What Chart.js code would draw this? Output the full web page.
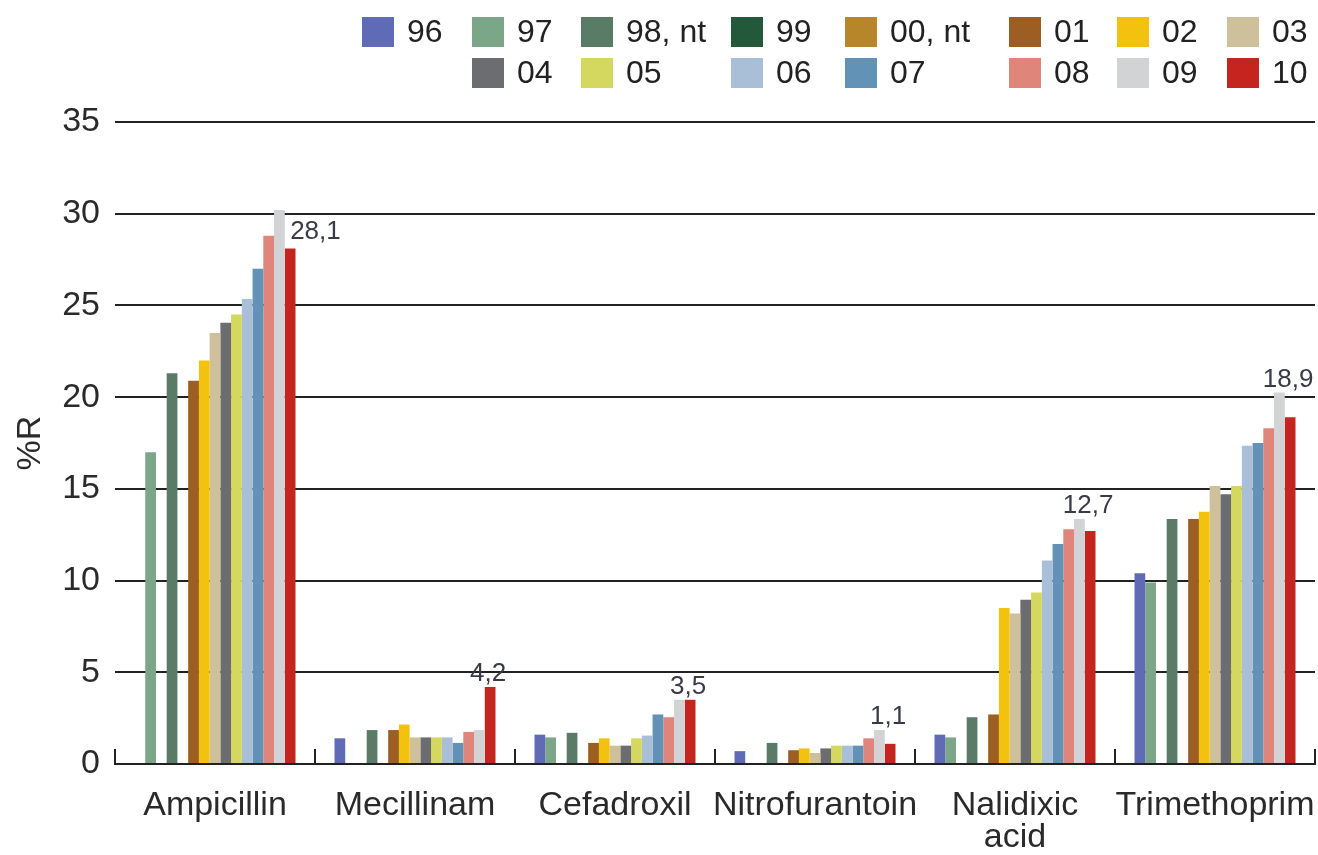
<!DOCTYPE html>
<html>
<head>
<meta charset="utf-8">
<script src="https://cdn.jsdelivr.net/npm/chart.js@4.4.1/dist/chart.umd.min.js"></script>
<style>
  body { margin: 0; background: #fff; }
  #wrap { position: relative; width: 1318px; height: 855px; }
  #legend {
    position: absolute; left: 362px; top: 11px;
    display: grid;
    grid-template-columns: 110px 109px 150px 114px 164px 108px 110px 91px;
    grid-auto-rows: 41px;
    font-family: 'Liberation Sans', Arial, sans-serif; font-size: 32px; color: #222;
  }
  .item { display: flex; align-items: center; white-space: nowrap; }
  .box { width: 32px; height: 30px; margin-right: 13px; flex: none; }
</style>
</head>
<body>
<div id="wrap">
  <canvas id="chart" width="1318" height="855"></canvas>
  <div id="legend"></div>
</div>
<script>
const categories = ['Ampicillin', 'Mecillinam', 'Cefadroxil', 'Nitrofurantoin', ['Nalidixic', 'acid'], 'Trimethoprim'];
const yTicks = [0, 5, 10, 15, 20, 25, 30, 35];

// %R per year, one value per antibiotic (null = no bar)
const r96 = [null, 1.4, 1.6, 0.7, 1.6, 10.4];
const r97 = [17.0, null, 1.45, null, 1.45, 9.9];
const r98 = [21.3, 1.85, 1.7, 1.15, 2.55, 13.35];
const r99 = [null, null, null, null, null, null];
const r00 = [null, null, null, null, null, null];
const r01 = [20.9, 1.85, 1.15, 0.75, 2.7, 13.35];
const r02 = [22.0, 2.15, 1.4, 0.85, 8.5, 13.75];
const r03 = [23.5, 1.45, 1.0, 0.6, 8.2, 15.15];
const r04 = [24.05, 1.45, 1.0, 0.85, 8.95, 14.7];
const r05 = [24.5, 1.45, 1.4, 1.0, 9.35, 15.15];
const r06 = [25.35, 1.45, 1.55, 1.0, 11.1, 17.35];
const r07 = [27.0, 1.15, 2.7, 1.0, 12.0, 17.5];
const r08 = [28.8, 1.75, 2.55, 1.4, 12.8, 18.3];
const r09 = [30.2, 1.85, 3.5, 1.85, 13.35, 20.25];
const r10 = [28.1, 4.2, 3.5, 1.1, 12.7, 18.9];

const series = [
  { label: '96', data: r96, color: '#5f6bb5' },
  { label: '97', data: r97, color: '#7ba688' },
  { label: '98, nt', data: r98, color: '#5a7c66' },
  { label: '99', data: r99, color: '#23583a' },
  { label: '00, nt', data: r00, color: '#b7862a' },
  { label: '01', data: r01, color: '#9c5e23' },
  { label: '02', data: r02, color: '#f2c20e' },
  { label: '03', data: r03, color: '#cfc09c' },
  { label: '04', data: r04, color: '#6b6d70' },
  { label: '05', data: r05, color: '#d5d85e' },
  { label: '06', data: r06, color: '#a9bfd8' },
  { label: '07', data: r07, color: '#6293b6' },
  { label: '08', data: r08, color: '#e0857a' },
  { label: '09', data: r09, color: '#d2d3d5' },
  { label: '10', data: r10, color: '#c4251f' },
];

// bar slot order in each group (the empty 99 slot sits between 97 and 98)
const slotOrder = ['96', '97', '99', '98, nt', '00, nt', '01', '02', '03', '04', '05', '06', '07', '08', '09', '10'];

const font = "'Liberation Sans', Arial, sans-serif";
const fmt = v => v.toFixed(1).replace('.', ',');

const valueLabels = {
  id: 'valueLabels',
  afterDatasetsDraw(chart) {
    const ctx = chart.ctx;
    const m10 = chart.getDatasetMeta(slotOrder.indexOf('10'));
    const m09 = chart.getDatasetMeta(slotOrder.indexOf('09'));
    ctx.save();
    ctx.font = '26px ' + font;
    ctx.fillStyle = '#3a3a48';
    ctx.textBaseline = 'alphabetic';
    r10.forEach((v, i) => {
      const b10 = m10.data[i];
      const b09 = m09.data[i];
      if (r09[i] - v > 2) {
        // taller 09 bar next to it: put the label beside it
        ctx.textAlign = 'left';
        ctx.fillText(fmt(v), b10.x, b10.y - 10);
      } else {
        ctx.textAlign = 'center';
        ctx.fillText(fmt(v), b10.x - 2, Math.min(b10.y, b09.y) - 6);
      }
    });
    ctx.restore();
  }
};

const ordered = slotOrder.map(l => series.find(s => s.label === l));

new Chart(document.getElementById('chart'), {
  type: 'bar',
  data: {
    labels: categories,
    datasets: ordered.map(s => ({
      label: s.label,
      data: s.data,
      backgroundColor: s.color,
      borderWidth: 0,
      categoryPercentage: 0.805,
      barPercentage: 1.0,
    })),
  },
  options: {
    responsive: false,
    animation: false,
    layout: { padding: { top: 122, right: 3, left: 0, bottom: 0 } },
    plugins: {
      legend: { display: false },
      tooltip: { enabled: false },
    },
    scales: {
      x: {
        offset: true,
        afterFit: s => { s.height = 91; s.paddingLeft = 0; s.paddingRight = 0; },
        grid: {
          offset: true,
          drawOnChartArea: false,
          color: '#222',
          lineWidth: 2,
          tickLength: -15,
        },
        border: { display: true, color: '#222', width: 2 },
        ticks: {
          color: '#2a2a2a',
          padding: 40,
          maxRotation: 0,
          autoSkip: false,
          font: { family: font, size: 34, lineHeight: 0.95 },
        },
      },
      y: {
        min: 0,
        max: 35,
        afterFit: s => { s.width = 115; },
        afterBuildTicks: axis => { axis.ticks = yTicks.map(v => ({ value: v })); },
        grid: { color: '#222', lineWidth: 2, drawTicks: false },
        border: { display: false },
        ticks: {
          color: '#2a2a2a',
          padding: 15,
          font: { family: font, size: 34 },
        },
        title: {
          display: true,
          text: '%R',
          color: '#2a2a2a',
          padding: { top: 10, bottom: 0 },
          font: { family: font, size: 34 },
        },
      },
    },
  },
  plugins: [valueLabels],
});

// legend in the reference layout: two rows, second row starts at column 2
const legendOrder = ['96', '97', '98, nt', '99', '00, nt', '01', '02', '03', '04', '05', '06', '07', '08', '09', '10'];
const legendEl = document.getElementById('legend');
legendOrder.forEach((l, k) => {
  const s = series.find(x => x.label === l);
  const item = document.createElement('div');
  item.className = 'item';
  if (k === 8) item.style.gridColumnStart = 2;
  const box = document.createElement('span');
  box.className = 'box';
  box.style.background = s.color;
  const txt = document.createElement('span');
  txt.textContent = s.label;
  item.appendChild(box);
  item.appendChild(txt);
  legendEl.appendChild(item);
});
</script>
</body>
</html>
